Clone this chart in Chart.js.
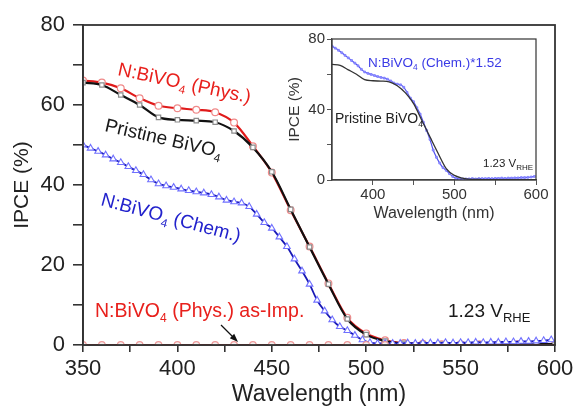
<!DOCTYPE html>
<html><head><meta charset="utf-8">
<script src="https://cdn.jsdelivr.net/npm/chart.js@4.4.1/dist/chart.umd.min.js"></script>
<style>
html,body{margin:0;padding:0;background:#fff;}
#wrap{position:relative;width:574px;height:409px;}
#main{position:absolute;left:0;top:0;}
#inset{position:absolute;left:270px;top:30px;}
</style></head>
<body>
<div id="wrap">
<canvas id="main" width="574" height="409"></canvas>
<canvas id="inset" width="290" height="195"></canvas>
</div>
<script>
// ---- data ----
const wl10 = [350,360,370,380,390,400,410,420,430,440,450,460,470,480,490,500,510,520,530,540,550,560,570,580,590,600];
const pristine = [65.6,65.0,62.5,60.0,56.9,56.3,56.1,55.7,53.5,49.4,43.3,33.9,24.5,15.2,6.5,2.6,1.0,0.4,0.3,0.2,0.2,0.2,0.2,0.2,0.2,0.2];
const physN = [66.1,65.6,64.2,61.7,59.8,59.2,58.8,58.2,55.6,49.7,43.1,33.7,24.6,15.4,6.8,2.9,1.2,0.5,0.3,0.2,0.2,0.2,0.2,0.2,0.2,0.2];
const physImp = [0,0,0,0,0,0,0,0,0,0,0,0,0,0,0,0,0,0,0,0,0,0,0,0,0,0];
const wl4 = [350,354,358,362,366,370,374,378,382,386,390,394,398,402,406,410,414,418,422,426,430,434,438,442,446,450,454,458,462,466,470,474,478,482,486,490,494,498,502,506,510,514,518,522,526,530,534,538,542,546,550,554,558,562,566,570,574,578,582,586,590,594,598];
const chemN = [50.0,49.2,48.4,47.5,46.5,45.6,44.6,43.6,42.6,41.3,40.3,39.8,39.4,39.0,38.6,38.3,38.0,37.6,37.0,36.2,35.8,35.5,34.6,32.7,30.6,29.2,27.0,24.6,21.5,18.5,15.2,11.2,8.5,6.3,4.6,3.6,2.4,1.3,0.6,0.4,0.4,0.4,0.4,0.5,0.4,0.5,0.5,0.5,0.6,0.5,0.6,0.6,0.7,0.6,0.7,0.7,0.8,0.8,0.9,0.9,1.0,1.1,1.3];
// inset: N:BiVO4 (Chem.) * 1.52
const insetChem = [76.0,74.8,73.6,72.2,70.7,69.3,67.8,66.3,64.8,62.8,61.3,60.5,59.9,59.3,58.7,58.2,57.8,57.2,56.2,55.0,54.4,54.0,52.6,49.7,46.5,44.4,41.0,37.4,32.7,28.1,23.1,17.0,12.9,9.6,7.0,5.5,3.6,2.0,0.9,0.6,0.6,0.6,0.6,0.8,0.6,0.8,0.8,0.8,0.9,0.8,0.9,0.9,1.1,0.9,1.1,1.1,1.2,1.2,1.4,1.4,1.5,1.7,2.0];
const mainXTicks = [350,400,450,500,550,600];
const mainYTicks = [0,20,40,60,80];
const insetXTicks = [400,500,600];
const insetYTicks = [0,40,80];

const FONT = '"Liberation Sans", Arial, Helvetica, sans-serif';
const pts = (xs, ys) => xs.map((x, i) => ({x: x, y: ys[i]}));

function drawRuns(ctx, x, y, angle, size, color, runs) {
  ctx.save();
  ctx.translate(x, y);
  ctx.rotate(angle * Math.PI / 180);
  ctx.fillStyle = color;
  ctx.textBaseline = 'alphabetic';
  ctx.textAlign = 'left';
  let cx = 0;
  for (const r of runs) {
    const sub = r[1];
    const fs = sub ? (r[2] || size * 0.62) : size;
    ctx.font = fs + 'px ' + FONT;
    ctx.fillText(r[0], cx, sub ? size * 0.25 : 0);
    cx += ctx.measureText(r[0]).width;
  }
  ctx.restore();
}

const framePlugin = {
  id: 'frame',
  afterDraw(chart) {
    const {ctx, chartArea: a} = chart;
    ctx.save();
    ctx.strokeStyle = '#333';
    ctx.lineWidth = chart.canvas.id === 'main' ? 1.8 : 1.2;
    ctx.strokeRect(a.left, a.top, a.right - a.left, a.bottom - a.top);
    ctx.restore();
  }
};

const mainText = {
  id: 'mainText',
  afterDraw(chart) {
    const ctx = chart.ctx;
    drawRuns(ctx, 117, 75, 12, 19, '#e8201c', [['N:BiVO'], ['4', true], [' (Phys.)']]);
    drawRuns(ctx, 104, 131, 13, 19, '#1a1a1a', [['Pristine BiVO'], ['4', true]]);
    drawRuns(ctx, 100, 205, 15, 19, '#2222cc', [['N:BiVO'], ['4', true], [' (Chem.)']]);
    drawRuns(ctx, 95, 317, 0, 19.5, '#e8201c', [['N:BiVO'], ['4', true], [' (Phys.) as-Imp.']]);
    drawRuns(ctx, 448, 317, 0, 19, '#1a1a1a', [['1.23 V'], ['RHE', true, 13]]);
    // arrow
    ctx.save();
    ctx.strokeStyle = '#111'; ctx.fillStyle = '#111'; ctx.lineWidth = 1.2;
    const x1 = 221, y1 = 325, x2 = 238, y2 = 342;
    const ang = Math.atan2(y2 - y1, x2 - x1);
    ctx.beginPath(); ctx.moveTo(x1, y1); ctx.lineTo(x2 - 6 * Math.cos(ang), y2 - 6 * Math.sin(ang)); ctx.stroke();
    ctx.beginPath();
    ctx.moveTo(x2, y2);
    ctx.lineTo(x2 - 9 * Math.cos(ang - 0.35), y2 - 9 * Math.sin(ang - 0.35));
    ctx.lineTo(x2 - 9 * Math.cos(ang + 0.35), y2 - 9 * Math.sin(ang + 0.35));
    ctx.closePath(); ctx.fill();
    ctx.restore();
  }
};

const insetText = {
  id: 'insetText',
  afterDraw(chart) {
    const ctx = chart.ctx;
    // coordinates relative to inset canvas (offset 270,30)
    drawRuns(ctx, 368 - 270, 67 - 30, 0, 13.5, '#3a3ae6', [['N:BiVO'], ['4', true], [' (Chem.)*1.52']]);
    drawRuns(ctx, 335 - 270, 123 - 30, 0, 14, '#222', [['Pristine BiVO'], ['4', true]]);
    drawRuns(ctx, 483 - 270, 167 - 30, 0, 11.5, '#222', [['1.23 V'], ['RHE', true, 8]]);
  }
};

new Chart(document.getElementById('main'), {
  type: 'line',
  data: {
    datasets: [
      {data: pts(wl10, physImp), borderColor: '#d41818', borderWidth: 2.2, pointStyle: 'circle',
       pointRadius: (c) => (c.raw && c.raw.x <= 510 ? 3.3 : 0), pointBorderColor: '#ee9a9a', pointBackgroundColor: '#f4f0f0', pointBorderWidth: 1.2},
      {data: pts(wl4, chemN), borderColor: '#1818b4', borderWidth: 1.8, pointStyle: 'triangle', pointRadius: 3.8,
       pointBorderColor: '#7070ff', pointBackgroundColor: '#fff', pointBorderWidth: 1.1, cubicInterpolationMode: 'monotone'},
      {data: pts(wl10, pristine), borderColor: '#111', borderWidth: 2.2, pointStyle: 'rect', pointRadius: 3.1,
       pointBorderColor: '#8c8c8c', pointBackgroundColor: '#fff', pointBorderWidth: 1.2, cubicInterpolationMode: 'monotone'},
      {data: pts(wl10, physN), borderColor: '#e01a1a', borderWidth: 2.2, pointStyle: 'circle', pointRadius: 3.4,
       pointBorderColor: '#f08a8a', pointBackgroundColor: '#fff', pointBorderWidth: 1.2, cubicInterpolationMode: 'monotone'}
    ]
  },
  options: {
    responsive: false, animation: false, devicePixelRatio: 1,
    layout: {padding: {left: 0, right: 19, top: 25, bottom: 0}},
    plugins: {legend: {display: false}, tooltip: {enabled: false}},
    elements: {line: {fill: false}},
    scales: {
      x: {
        type: 'linear', min: 350, max: 600,
        afterBuildTicks(s) { const t = []; for (const v of mainXTicks) { t.push({value: v}); } for (const v of mainXTicks) { if (v + 25 < 600) t.push({value: v + 25}); } s.ticks = t.sort((a, b) => a.value - b.value); },
        ticks: {autoSkip: false, maxRotation: 0, padding: 4, color: '#222', font: {family: FONT, size: 22},
          callback: (v) => (mainXTicks.includes(v) ? String(v) : '')},
        grid: {drawOnChartArea: false, tickLength: 7, color: '#333', lineWidth: 1.6},
        border: {color: '#333', width: 1.8},
        title: {display: true, text: 'Wavelength (nm)', color: '#222', font: {family: FONT, size: 23}, padding: {top: 0, bottom: 1}},
        afterFit(s) { s.height = 64; s.paddingLeft = 0; s.paddingRight = 0; }
      },
      y: {
        min: 0, max: 80,
        afterBuildTicks(s) { const t = []; for (let i = 0; i < mainYTicks.length; i++) { t.push({value: mainYTicks[i]}); if (i < mainYTicks.length - 1) t.push({value: (mainYTicks[i] + mainYTicks[i + 1]) / 2}); } s.ticks = t; },
        ticks: {padding: 8, color: '#222', font: {family: FONT, size: 22},
          callback: (v) => (mainYTicks.includes(v) ? String(v) : '')},
        grid: {drawOnChartArea: false, tickLength: 10, color: '#333', lineWidth: 1.6},
        border: {color: '#333', width: 1.8},
        title: {display: true, text: 'IPCE (%)', color: '#222', font: {family: FONT, size: 21}, padding: {top: 10, bottom: 0}},
        afterFit(s) { s.width = 83; s.paddingTop = 0; s.paddingBottom = 0; }
      }
    }
  },
  plugins: [framePlugin, mainText]
});

new Chart(document.getElementById('inset'), {
  type: 'line',
  data: {
    datasets: [
      {data: pts(wl10, pristine), borderColor: '#333', borderWidth: 1.3, pointRadius: 0, cubicInterpolationMode: 'monotone'},
      {data: pts(wl4, insetChem), borderColor: '#5050ee', borderWidth: 1.2, pointStyle: 'rect', pointRadius: 1.3,
       pointBorderColor: '#7a7aff', pointBackgroundColor: '#9a9aff', pointBorderWidth: 0.8, cubicInterpolationMode: 'monotone'}
    ]
  },
  options: {
    responsive: false, animation: false, devicePixelRatio: 1,
    layout: {padding: {left: 0, right: 24, top: 9, bottom: 0}},
    plugins: {legend: {display: false}, tooltip: {enabled: false}},
    scales: {
      x: {
        type: 'linear', min: 350, max: 600,
        afterBuildTicks(s) { s.ticks = [{value: 400}, {value: 450}, {value: 500}, {value: 550}, {value: 600}]; },
        ticks: {autoSkip: false, maxRotation: 0, padding: 1, color: '#333', font: {family: FONT, size: 15},
          callback: (v) => (insetXTicks.includes(v) ? String(v) : '')},
        grid: {drawOnChartArea: false, tickLength: 5, color: '#555', lineWidth: 1},
        border: {color: '#555', width: 1.2},
        title: {display: true, text: 'Wavelength (nm)', color: '#333', font: {family: FONT, size: 16}, padding: {top: 0, bottom: 2}},
        afterFit(s) { s.height = 45; s.paddingLeft = 0; s.paddingRight = 0; }
      },
      y: {
        min: 0, max: 80,
        afterBuildTicks(s) { s.ticks = [{value: 0}, {value: 20}, {value: 40}, {value: 60}, {value: 80}]; },
        ticks: {padding: 2, color: '#333', font: {family: FONT, size: 15},
          callback: (v) => (insetYTicks.includes(v) ? String(v) : '')},
        grid: {drawOnChartArea: false, tickLength: 5, color: '#555', lineWidth: 1},
        border: {color: '#555', width: 1.2},
        title: {display: true, text: 'IPCE (%)', color: '#333', font: {family: FONT, size: 15.5}, padding: {top: 15, bottom: 0}},
        afterFit(s) { s.width = 62; s.paddingTop = 0; s.paddingBottom = 0; }
      }
    }
  },
  plugins: [framePlugin, insetText]
});
</script>
</body></html>
